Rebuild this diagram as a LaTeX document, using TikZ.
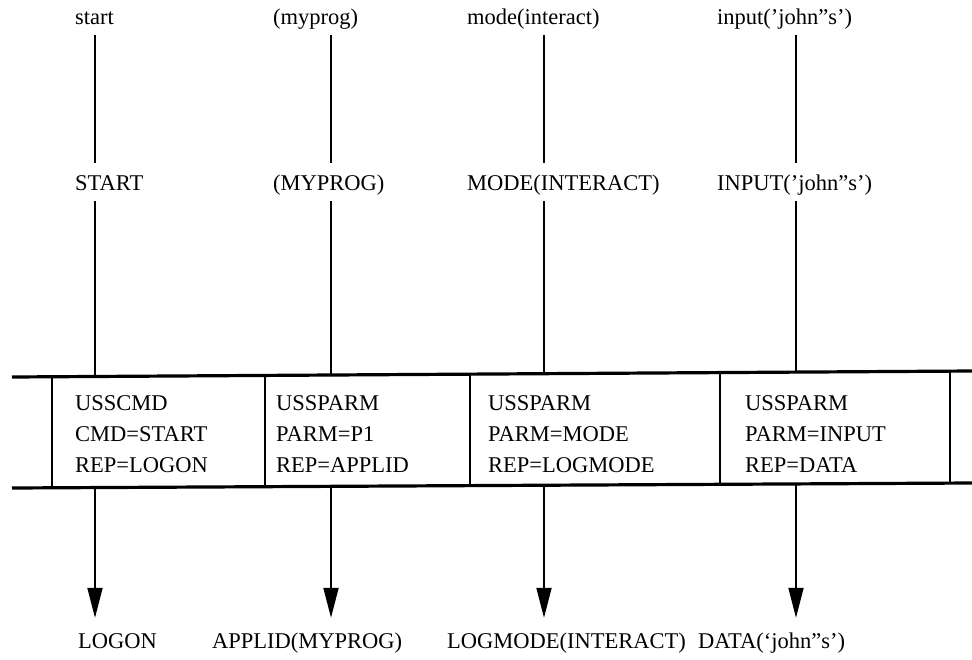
\documentclass[tikz,border=0pt]{standalone}
\usepackage{fontspec}
\setmainfont{Liberation Serif}
\usetikzlibrary{arrows.meta}
\tikzset{
  lbl/.style={font=\fontsize{22.5}{31}\selectfont, inner sep=0pt, text height=16pt, text depth=5pt, anchor=base west},
  boxtxt/.style={font=\fontsize{22.5}{31}\selectfont, inner sep=0pt, align=left, anchor=north west},
  wire/.style={line width=1.8pt},
  band/.style={line width=3.2pt},
  sep/.style={line width=1.8pt},
  flow/.style={line width=1.8pt, -{Triangle[length=30pt,width=15pt]}}
}
\begin{document}
\begin{tikzpicture}[x=1pt,y=-1pt]
\useasboundingbox (0,0) rectangle (972,659);
% band edges (slightly tilted)
\coordinate (TL) at (12,377);
\coordinate (TR) at (972,371);
\coordinate (BL) at (12,488);
\coordinate (BR) at (972,483);
\draw[band] (TL) -- (TR);
\draw[band] (BL) -- (BR);
% column axes
\foreach \n/\x in {1/95,2/331,3/544,4/796}{
  \coordinate (c\n) at (\x,0);
  \coordinate (c\n b) at (\x,659);
  \coordinate (t\n) at (intersection of TL--TR and c\n--c\n b);
  \coordinate (d\n) at (intersection of BL--BR and c\n--c\n b);
}
% box separators
\foreach \n/\x in {1/52,2/265,3/470,4/720,5/950}{
  \coordinate (s\n) at (\x,0);
  \coordinate (s\n b) at (\x,659);
  \draw[sep] (intersection of TL--TR and s\n--s\n b) -- (intersection of BL--BR and s\n--s\n b);
}
% source text
\node[lbl] (in1) at (75,24) {start};
\node[lbl] (in2) at (273,24) {(myprog)};
\node[lbl] (in3) at (467,24) {mode(interact)};
\node[lbl] (in4) at (717,24) {input('john''s')};
% translated text
\node[lbl] (up1) at (75,190) {START};
\node[lbl] (up2) at (273,190) {(MYPROG)};
\node[lbl] (up3) at (467,190) {MODE(INTERACT)};
\node[lbl] (up4) at (717,190) {INPUT('john''s')};
% table entries
\node[boxtxt] (k1) at (75,395) {USSCMD\\CMD=START\\REP=LOGON};
\node[boxtxt] (k2) at (276,395) {USSPARM\\PARM=P1\\REP=APPLID};
\node[boxtxt] (k3) at (488,395) {USSPARM\\PARM=MODE\\REP=LOGMODE};
\node[boxtxt] (k4) at (745,395) {USSPARM\\PARM=INPUT\\REP=DATA};
% results
\node[lbl] (out1) at (78,648) {LOGON};
\node[lbl] (out2) at (212,648) {APPLID(MYPROG)};
\node[lbl] (out3) at (447,648) {LOGMODE(INTERACT)};
\node[lbl] (out4) at (698,648) {DATA(`john''s')};
% connectors
\foreach \n in {1,2,3,4}{
  \draw[wire, shorten <=6pt, shorten >=11pt] (in\n.south -| c\n) -- (up\n.north -| c\n);
  \draw[wire, shorten <=6pt] (up\n.south -| c\n) -- (t\n);
  \draw[flow, shorten >=14pt] (d\n) -- (out\n.north -| c\n);
}
\end{tikzpicture}
\end{document}
